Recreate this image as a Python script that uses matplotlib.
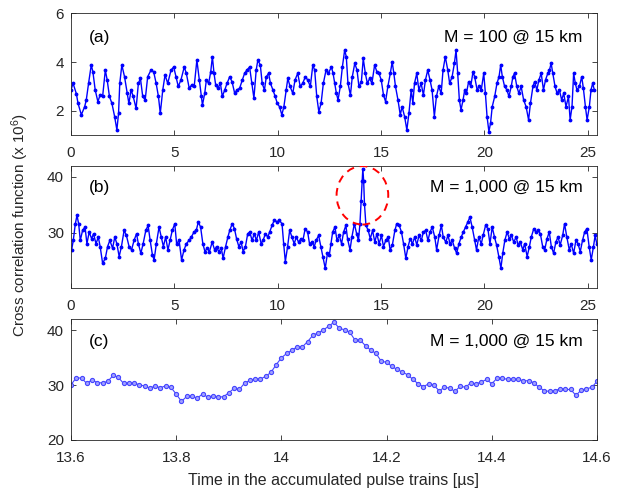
import matplotlib
matplotlib.use("Agg")
import matplotlib.pyplot as plt
from matplotlib.patches import Ellipse

plt.rcParams['font.family'] = ['Liberation Sans', 'DejaVu Sans']
plt.rcParams['mathtext.default'] = 'regular'

# ---------------- data: panel (a), M = 100 ----------------
t_a = [0, 0.1, 0.26, 0.34, 0.5, 0.66, 0.74, 0.85, 0.98, 1.06, 1.17, 1.3, 1.41, 1.53, 1.66, 1.75, 1.86, 1.98,
       2.11, 2.22, 2.3, 2.36, 2.46, 2.59, 2.72, 2.8, 2.91, 3.01, 3.15, 3.26, 3.36, 3.47, 3.59, 3.71, 3.87, 4.0,
       4.12, 4.23, 4.32, 4.44, 4.55, 4.68, 4.84, 4.97, 5.08, 5.19, 5.32, 5.48, 5.58, 5.72, 5.84, 5.96, 6.09, 6.21,
       6.31, 6.36, 6.47, 6.55, 6.66, 6.76, 6.84, 6.92, 7.0, 7.11, 7.23, 7.32, 7.44, 7.55, 7.68, 7.79, 7.92, 8.03,
       8.16, 8.29, 8.4, 8.51, 8.64, 8.75, 8.85, 8.96, 9.04, 9.16, 9.25, 9.36, 9.45, 9.56, 9.65, 9.77, 9.88, 9.98,
       10.09, 10.2, 10.3, 10.41, 10.49, 10.6, 10.73, 10.84, 10.97, 11.09, 11.21, 11.34, 11.45, 11.58, 11.7, 11.79,
       11.89, 11.99, 12.1, 12.21, 12.34, 12.45,
       12.6, 12.68, 12.76, 12.84, 12.92, 13.03, 13.13, 13.24, 13.32, 13.4, 13.52, 13.61, 13.73, 13.84, 13.93, 14.05,
       14.14, 14.24, 14.34, 14.45, 14.56, 14.69, 14.8, 14.9, 15.01, 15.12, 15.22, 15.33, 15.45, 15.54, 15.62, 15.7,
       15.82, 15.93, 16.02, 16.14, 16.25, 16.35, 16.46, 16.54, 16.62, 16.73, 16.83, 16.94, 17.05, 17.15, 17.26,
       17.37, 17.47, 17.58, 17.68, 17.79, 17.91, 18.0, 18.11, 18.23, 18.32, 18.44, 18.55, 18.63, 18.71, 18.79, 18.87,
       18.97, 19.05, 19.13, 19.24, 19.34, 19.45, 19.53, 19.65, 19.74, 19.85, 19.97, 20.05, 20.13, 20.22, 20.3, 20.38,
       20.5, 20.61, 20.71, 20.79, 20.87, 20.98, 21.09, 21.19, 21.3, 21.38, 21.46, 21.57, 21.67, 21.78, 21.9, 22.02,
       22.14, 22.23, 22.35, 22.43, 22.54, 22.64, 22.75, 22.86, 22.96, 23.07, 23.15, 23.23, 23.31, 23.42, 23.52,
       23.63, 23.74, 23.84, 23.95, 24.07, 24.15, 24.24, 24.32, 24.4, 24.48, 24.6, 24.71, 24.79, 24.89, 24.97, 25.08,
       25.16, 25.24, 25.32]
v_a = [2.86, 3.13, 2.7, 2.31, 1.84, 2.17, 2.45, 3.13, 3.88, 3.6, 2.86, 2.38, 2.65, 2.59, 3.67, 3.27, 2.59, 2.31,
       1.77, 1.22, 1.9, 3.13, 3.88, 3.4, 2.72, 2.31, 2.86, 2.59, 2.1, 3.13, 3.33, 2.59, 2.45, 3.4, 3.67, 3.6,
       3.13, 2.59, 1.9, 2.86, 3.47, 3.13, 3.67, 3.8, 3.4, 3.0, 3.27, 3.8, 3.54, 2.93, 3.06, 3.0, 4.08, 3.27,
       2.59, 2.24, 2.72, 3.27, 3.13, 3.6, 4.22, 3.54, 3.06, 2.93, 3.13, 2.59, 2.86, 3.13, 3.4, 3.2, 2.72, 2.86,
       2.93, 3.27, 3.54, 3.67, 3.8, 3.13, 2.52, 3.67, 4.08, 3.88, 3.13, 2.86, 3.4, 3.54, 3.13, 2.86, 2.59, 2.31,
       2.17, 1.84, 2.17, 2.86, 3.33, 3.0, 2.72, 3.27, 3.54, 3.0, 3.13, 3.4, 3.27, 3.0, 3.88, 3.67,
       2.59, 1.97, 2.31, 3.13, 3.67, 3.54,
       3.8, 3.54, 3.13, 2.72, 2.45, 3.0, 3.8, 4.49, 4.22, 3.13, 2.65, 3.4, 3.95, 3.67, 3.0, 3.2,
       4.15, 3.54, 3.13, 3.33, 3.13, 3.88, 3.6, 3.54, 3.27, 2.65, 2.38, 3.0, 3.54, 4.01, 3.54, 3.0,
       2.45, 1.84, 2.17, 1.77, 1.22, 1.9, 2.86, 2.31, 3.13, 3.54, 2.86, 3.13, 2.65, 3.27, 3.67,
       3.27, 2.86, 1.77, 2.59, 3.0, 2.72, 3.67, 4.22, 3.67, 3.13, 3.4, 3.95, 4.49, 3.54, 2.45, 2.04,
       2.45, 2.86, 2.72, 3.2, 3.0, 3.6, 3.4, 2.86, 3.0, 2.86, 3.54, 2.72, 1.77, 1.15, 1.5, 2.17,
       2.59, 3.13, 3.4, 3.88, 3.4, 3.0, 2.86, 2.59, 3.0, 3.4, 3.54, 3.0, 2.72, 3.0, 2.45, 2.17,
       1.63, 2.31, 3.0, 3.2, 2.86, 3.27, 3.54, 2.86, 3.27, 3.54, 3.67, 3.95, 3.54, 3.0, 2.72,
       2.86, 2.45, 2.72, 2.17, 2.59, 1.63, 2.17, 3.54, 3.13, 2.86, 3.0, 3.4, 2.93, 2.17, 1.63, 2.17,
       2.86, 3.13, 2.86]

# ---------------- data: panel (b), M = 1,000 ----------------
t_b = [0.03, 0.11, 0.21, 0.29, 0.37, 0.45, 0.56, 0.68, 0.77, 0.88, 1.0, 1.09, 1.21, 1.32, 1.41, 1.53, 1.66, 1.77,
       1.88, 2.01, 2.12, 2.22, 2.33, 2.44, 2.57, 2.68, 2.81, 2.93, 3.05, 3.17, 3.26, 3.38, 3.49, 3.62, 3.73, 3.83,
       3.94, 4.02, 4.13, 4.26, 4.37, 4.47, 4.58, 4.69, 4.79, 4.9, 5.02, 5.11, 5.23, 5.35, 5.47, 5.58, 5.71, 5.82,
       5.95, 6.06, 6.16, 6.27, 6.38, 6.48, 6.59, 6.7, 6.83, 6.95, 7.04, 7.15, 7.27, 7.36, 7.48, 7.59, 7.68, 7.8,
       7.91, 8.01, 8.12, 8.23, 8.33, 8.44, 8.55, 8.65, 8.76, 8.87, 8.97, 9.08, 9.2, 9.29, 9.41, 9.52, 9.61, 9.73,
       9.84, 9.97, 10.08, 10.21, 10.29, 10.37, 10.48, 10.58, 10.69, 10.8, 10.9, 11.01, 11.13, 11.22, 11.33, 11.45,
       11.54, 11.66, 11.77, 11.86, 11.98, 12.09, 12.19, 12.3, 12.41,
       12.5, 12.58, 12.66, 12.77, 12.87, 12.98, 13.09, 13.19, 13.3, 13.38, 13.5, 13.59, 13.71, 13.82, 13.91, 13.98,
       14.04, 14.09, 14.12, 14.16, 14.2, 14.27, 14.38, 14.48, 14.59, 14.7, 14.8, 14.91, 15.02, 15.12, 15.23, 15.35,
       15.44, 15.55, 15.67, 15.76, 15.88, 15.99, 16.09, 16.2, 16.31, 16.41, 16.52, 16.63, 16.73, 16.84, 16.95, 17.05,
       17.16, 17.27, 17.37, 17.48, 17.6, 17.69, 17.81, 17.92, 18.01, 18.13, 18.24, 18.34, 18.45, 18.56, 18.66, 18.77,
       18.88, 18.98, 19.09, 19.2, 19.3, 19.41, 19.53, 19.62, 19.73, 19.85, 19.94, 20.06, 20.17, 20.27, 20.38, 20.49,
       20.59, 20.7, 20.8, 20.89, 20.99, 21.1, 21.21, 21.31, 21.42, 21.54, 21.63, 21.74, 21.86, 21.95, 22.07, 22.18,
       22.27, 22.39, 22.5, 22.6, 22.71, 22.82, 22.92, 23.03, 23.14, 23.24, 23.35, 23.46, 23.56, 23.67, 23.79, 23.88,
       23.99, 24.11, 24.2, 24.32, 24.43, 24.53, 24.64, 24.75, 24.85, 24.96, 25.07, 25.17, 25.28, 25.36, 25.44]
v_b = [26.9, 28.6, 31.6, 33.1, 31.6, 28.6, 30.4, 31.0, 28.0, 30.1, 28.9, 29.8, 28.0, 29.2, 27.5, 24.5, 25.4, 27.5,
       28.6, 27.2, 29.2, 28.0, 25.7, 27.5, 30.4, 29.5, 27.5, 26.9, 28.6, 29.8, 28.0, 26.3, 28.0, 30.4, 31.3, 28.6,
       26.0, 25.1, 28.0, 31.0, 29.2, 27.5, 29.2, 26.9, 28.6, 30.4, 31.6, 28.0, 28.6, 25.1, 26.9, 28.0, 28.6, 29.2,
       30.1, 30.4, 31.9, 31.0, 28.0, 26.6, 27.2, 26.6, 28.3, 26.9, 27.5, 26.6, 27.2, 25.4, 27.5, 29.2, 30.4, 31.6,
       30.7, 28.9, 27.5, 28.3, 26.6, 27.5, 29.8, 30.1, 28.6, 29.8, 28.6, 30.1, 28.0, 28.6, 29.8, 29.2, 30.1, 31.3,
       32.3, 31.9, 32.2, 31.6, 28.0, 24.8, 27.5, 30.4, 29.2, 28.0, 29.2, 28.3, 28.9, 28.6, 30.7, 30.1,
       28.0, 28.3, 27.5, 28.6, 29.5, 27.5, 25.7, 23.6, 26.3,
       26.0, 28.0, 30.1, 31.0, 28.6, 29.5, 28.0, 30.1, 31.3, 28.9, 26.9, 29.2, 31.6, 29.8, 28.6, 31.6,
       35.7, 39.3, 41.5, 39.3, 35.1, 31.3, 30.4, 28.9, 30.4, 28.3, 29.8, 28.0, 29.5, 27.5, 28.6, 29.2,
       26.9, 27.8, 30.4, 31.6, 31.3, 30.1, 28.0, 25.4, 27.5, 28.9, 28.0, 29.2, 27.8, 29.5, 28.6, 30.1,
       30.4, 28.6, 30.1, 31.0, 29.2, 26.9, 29.5, 31.3, 29.2, 28.3, 29.5, 28.0, 28.6, 27.2, 26.3, 28.0,
       29.2, 30.1, 31.0, 31.9, 32.8, 31.0, 28.6, 26.9, 29.2, 28.0, 29.5, 31.3, 30.7, 28.0, 31.0, 29.2,
       27.8, 25.7, 23.6, 26.3, 28.6, 30.1, 28.9, 29.5, 28.3, 29.2, 27.8, 28.3, 26.9, 28.0, 25.7, 27.5,
       29.2, 30.7, 30.1, 30.4, 29.8, 27.5, 26.9, 28.9, 30.1, 27.5, 26.3, 28.3, 29.2, 27.8, 29.5, 31.6,
       29.2, 26.9, 28.0, 26.3, 28.6, 28.0, 26.6, 28.6, 30.1, 30.7, 27.5, 25.1, 27.5, 29.5, 28.0]

# ---------------- data: panel (c), zoom of M = 1,000 around the peak ----------------
t_c_start = 13.6
t_c_step = 0.01
v_c = [30.06, 31.33, 31.27, 30.3, 30.97, 30.42, 30.42, 30.67, 31.76, 31.4,
       30.3, 30.36, 30.36, 30.06, 29.82, 29.45, 29.82, 29.5, 29.88, 29.57,
       28.36, 27.03, 27.94, 27.94, 27.64, 28.36, 27.82, 28.06, 27.82, 27.88,
       28.6, 29.4, 29.2, 30.36, 30.85, 31.03, 31.1, 31.58, 32.3, 33.7,
       34.97, 35.76, 36.36, 36.97, 36.97, 37.94, 39.1, 39.5, 40.06, 40.73,
       41.45, 40.36, 40.06, 39.64, 38.18, 38.18, 37.15, 36.36, 35.76, 34.3,
       34.18, 33.4, 32.85, 32.36, 31.88, 31.03, 30.24, 29.7, 30.24, 29.94,
       28.97, 29.58, 29.45, 28.85, 29.82, 29.58, 30.42, 30.24, 30.55, 31.03,
       30.24, 31.27, 31.27, 31.03, 31.03, 31.03, 30.79, 30.79, 30.42, 29.58,
       28.97, 28.85, 28.97, 29.33, 29.2, 29.2, 28.12, 29.1, 29.33, 29.58,
       30.67]
t_c = [round(t_c_start + i * t_c_step, 2) for i in range(len(v_c))]

labels = ["(a)", "(b)", "(c)"]
titles = ["M = 100 @ 15 km", "M = 1,000 @ 15 km", "M = 1,000 @ 15 km"]
xticks_ab = [0, 5, 10, 15, 20, 25]
yticks_a = [2, 4, 6]
yticks_b = [30, 40]
yticks_c = [20, 30, 40]
xticks_c = [13.6, 13.8, 14, 14.2, 14.4, 14.6]
xticklabels_c = ["13.6", "13.8", "14", "14.2", "14.4", "14.6"]

# ---------------- figure ----------------
fig = plt.figure(figsize=(6.25, 4.92), dpi=100)
L, W = 0.1136, 0.8416
ax1 = fig.add_axes([L, 0.725, W, 0.248])
ax2 = fig.add_axes([L, 0.414, W, 0.249])
ax3 = fig.add_axes([L, 0.1057, W, 0.2455])

edge = '#262626'
for ax in (ax1, ax2, ax3):
    ax.tick_params(direction='in', top=True, right=True, length=3.5, width=0.6,
                   labelsize=11, colors=edge)
    ax.tick_params(axis='x', pad=8)
    ax.tick_params(axis='y', pad=5)
    for s in ax.spines.values():
        s.set_linewidth(0.6)
        s.set_color(edge)

ax1.plot(t_a, v_a, '.-', color='#0000ff', lw=1.0, ms=3.5)
ax1.set_xlim(0, 25.45)
ax1.set_ylim(1, 6)
ax1.set_xticks(xticks_ab)
ax1.set_yticks(yticks_a)

ax2.plot(t_b, v_b, '.-', color='#0000ff', lw=1.0, ms=3.5)
ax2.set_xlim(0, 25.45)
ax2.set_ylim(20, 42)
ax2.set_xticks(xticks_ab)
ax2.set_yticks(yticks_b)
ax2.add_patch(Ellipse((14.1, 36.7), 2.5, 10.5, fill=False, edgecolor='red',
                      linestyle=(0, (4, 3)), lw=1.4, zorder=5))

ax3.plot(t_c, v_c, '-o', color='#4646ff', lw=0.8, ms=3.0,
         mfc='#a0a0ff', mec='#4646ff', mew=0.8)
ax3.set_xlim(13.6, 14.6)
ax3.set_ylim(20, 42)
ax3.set_xticks(xticks_c)
ax3.set_xticklabels(xticklabels_c)
ax3.set_yticks(yticks_c)
ax3.set_xlabel("Time in the accumulated pulse trains [\u00b5s]", fontsize=11.5, color=edge, labelpad=6)

for ax, lab, tt, yy in zip((ax1, ax2, ax3), labels, titles, (0.805, 0.82, 0.815)):
    ax.text(0.034, yy, lab, transform=ax.transAxes, fontsize=12.5, va='center', ha='left', color='k')
    ax.text(0.973, yy, tt, transform=ax.transAxes, fontsize=12.5, va='center', ha='right', color='k')

fig.text(0.032, 0.543, "Cross correlation function (x 10$^6$)", rotation=90,
         fontsize=11, va='center', ha='center', color=edge)

fig.savefig("out.png", dpi=100)
